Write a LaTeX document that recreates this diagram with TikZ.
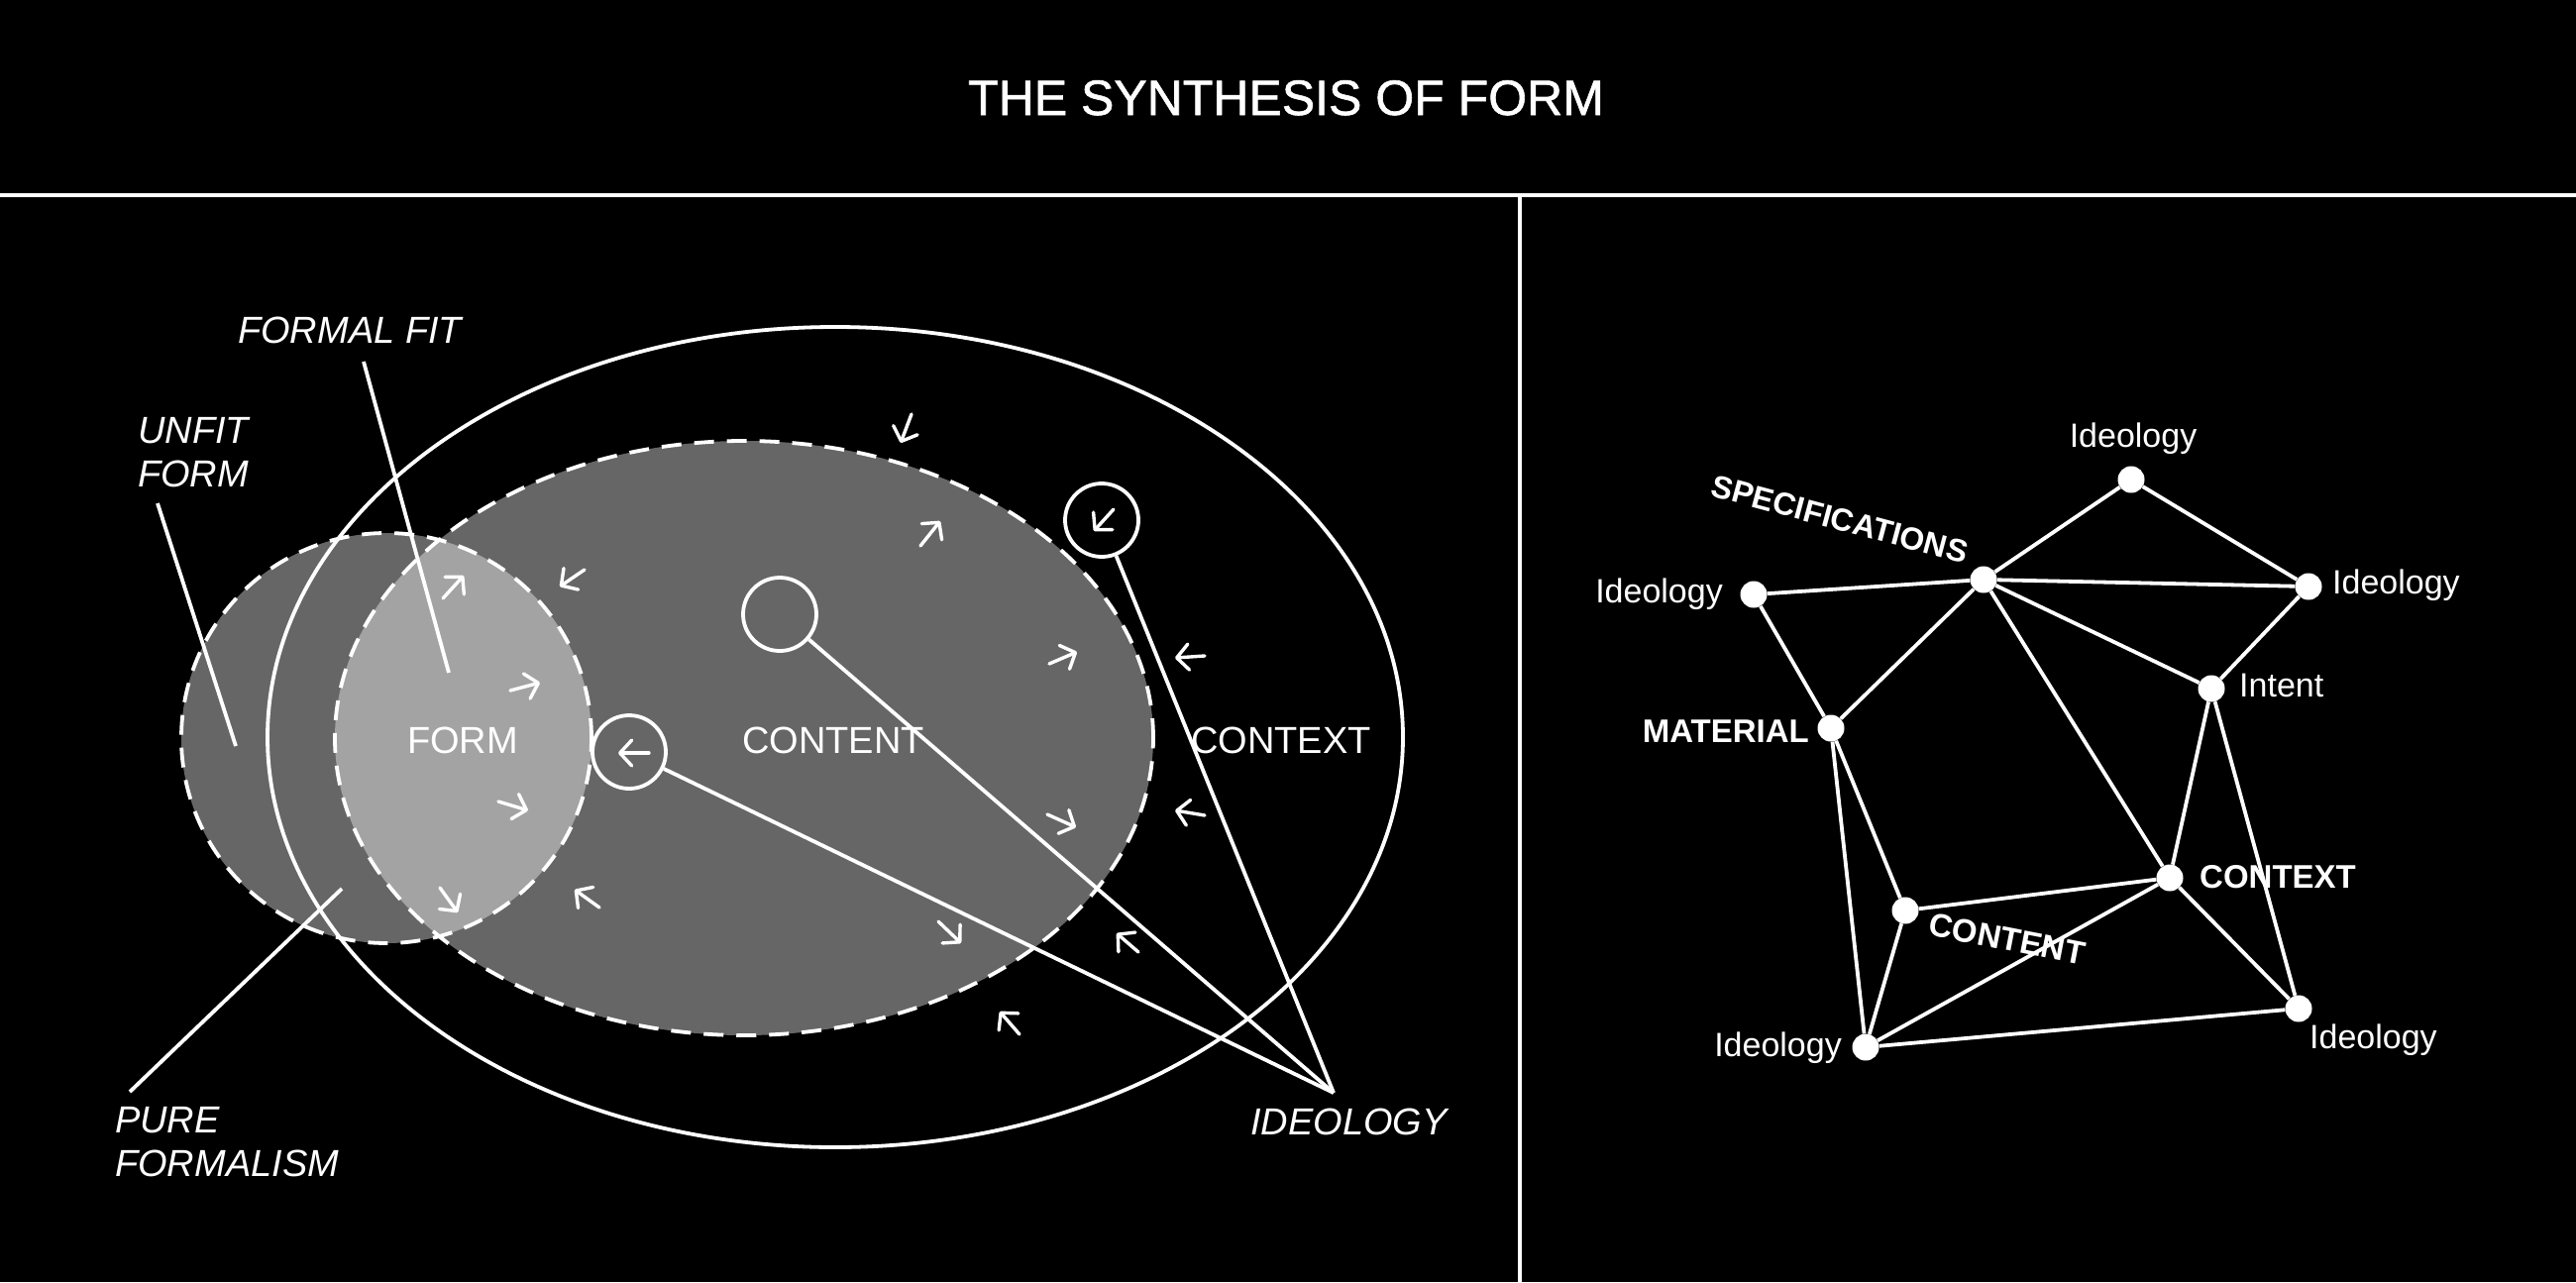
\documentclass[tikz,border=0pt]{standalone}
\usepackage{fontspec}
\setmainfont{Liberation Sans}
\newfontfamily\titlefont{Liberation Sans}[FakeBold=1.2]
\usetikzlibrary{arrows.meta}
\definecolor{midgray}{HTML}{666666}
\definecolor{lightgray}{HTML}{A3A3A3}
\begin{document}
\begin{tikzpicture}[x=1pt,y=-1pt,
  wl/.style={draw=white,line width=3.8pt},
  ring/.style={circle,draw=white,line width=3.8pt,minimum size=74pt,inner sep=0pt},
  dot/.style={circle,fill=white,minimum size=27pt,inner sep=0pt},
  sarr/.style={draw=white,line width=3.4pt,line cap=round,-{Straight Barb[length=12pt,width=26pt,round]}},
  lbl/.style={text=white,inner sep=0pt,font=\fontsize{38}{45}\selectfont},
  ilbl/.style={text=white,inner sep=0pt,align=left,font=\fontsize{38}{44}\selectfont\itshape},
  rlbl/.style={text=white,inner sep=0pt,font=\fontsize{34}{40}\selectfont},
  blbl/.style={text=white,inner sep=0pt,font=\fontsize{33}{40}\selectfont\bfseries},
  dashline/.style={draw=white,line width=3.8pt,dash pattern=on 20pt off 13pt},
]
\useasboundingbox (0,0) rectangle (2600,1294);
\fill[black] (0,0) rectangle (2600,1294);

% title and frame
\node[text=white,inner sep=0pt,anchor=base,font=\fontsize{50}{60}\titlefont] (title) at (1298,116) {THE SYNTHESIS OF FORM};
\coordinate (hl) at (0,197);
\coordinate (hr) at (2600,197);
\coordinate (vt) at (1534,197);
\coordinate (vb) at (1534,1294);
\draw[wl,line width=4.2pt] (hl) -- (hr);
\draw[wl,line width=4.2pt] (vt) -- (vb);

% ---------- left diagram ----------
\fill[midgray] (390,745) circle [radius=207pt];
\fill[midgray] (751,745) ellipse [x radius=413pt, y radius=300pt];
\begin{scope}
  \clip (390,745) circle [radius=207pt];
  \fill[lightgray] (751,745) ellipse [x radius=413pt, y radius=300pt];
\end{scope}
\draw[dashline] (390,745) circle [radius=207pt];
\draw[dashline] (751,745) ellipse [x radius=413pt, y radius=300pt];
\draw[wl] (843,744) ellipse [x radius=573pt, y radius=414pt];

% small rings
\node[ring] (r1) at (635,759) {};
\node[ring] (r2) at (787,620) {};
\node[ring] (r3) at (1112,525) {};
\coordinate (ideo) at (1346,1103);
\draw[wl] (r1) -- (ideo);
\draw[wl] (r2) -- (ideo);
\draw[wl] (r3) -- (ideo);
\draw[sarr] (655,760) -- (624,760);
\draw[sarr] (1124,514) -- (1104,536);

% small arrows
\draw[sarr] (447,604) -- (468,581);
\draw[sarr] (590,575) -- (565,592);
\draw[sarr] (515,697) -- (545,689);
\draw[sarr] (503,809) -- (533,818);
\draw[sarr] (444,896) -- (462,921);
\draw[sarr] (605,916) -- (580,898);
\draw[sarr] (920,418) -- (909,447);
\draw[sarr] (929,551) -- (949,526);
\draw[sarr] (1059,670) -- (1087,658);
\draw[sarr] (1057,822) -- (1086,835);
\draw[sarr] (947,930) -- (970,952);
\draw[sarr] (1149,961) -- (1127,942);
\draw[sarr] (1029,1044) -- (1009,1021);
\draw[sarr] (1216,662) -- (1186,664);
\draw[sarr] (1216,823) -- (1186,818);

% labels
\node[lbl,anchor=base] (form) at (467,760) {FORM};
\node[lbl,anchor=base] (content) at (841,760) {CONTENT};
\node[lbl,anchor=base] (context) at (1293,760) {CONTEXT};
\node[ilbl,anchor=base west] (formalfit) at (240,346) {FORMAL FIT};
\node[ilbl,anchor=north west] (unfit) at (139,421) {UNFIT\\FORM};
\node[ilbl,anchor=north west] (pure) at (116,1117) {PURE\\FORMALISM};
\node[ilbl,anchor=base west] (ideolabel) at (1262,1145) {IDEOLOGY};

\coordinate (ff1) at (367,365);
\coordinate (ff2) at (453,679);
\coordinate (uf1) at (159,508);
\coordinate (uf2) at (238,753);
\coordinate (pf1) at (131,1102);
\coordinate (pf2) at (345,897);
\draw[wl] (ff1) -- (ff2);
\draw[wl] (uf1) -- (uf2);
\draw[wl] (pf1) -- (pf2);

% ---------- right diagram ----------
\node[dot] (iT) at (2151,484) {};
\node[dot] (sp) at (2002,585) {};
\node[dot] (iL) at (1770,600) {};
\node[dot] (iR) at (2330,592) {};
\node[dot] (int) at (2232,695) {};
\node[dot] (ma) at (1848,735) {};
\node[dot] (cx) at (2190,886) {};
\node[dot] (cn) at (1923,919) {};
\node[dot] (iBL) at (1883,1057) {};
\node[dot] (iBR) at (2320,1018) {};

\draw[wl] (iT) -- (sp);
\draw[wl] (iT) -- (iR);
\draw[wl] (sp) -- (iL);
\draw[wl] (sp) -- (iR);
\draw[wl] (sp) -- (ma);
\draw[wl] (sp) -- (int);
\draw[wl] (sp) -- (cx);
\draw[wl] (iL) -- (ma);
\draw[wl] (iR) -- (int);
\draw[wl] (int) -- (cx);
\draw[wl] (int) -- (iBR);
\draw[wl] (ma) -- (cn);
\draw[wl] (ma) -- (iBL);
\draw[wl] (cn) -- (cx);
\draw[wl] (cn) -- (iBL);
\draw[wl] (cx) -- (iBL);
\draw[wl] (cx) -- (iBR);
\draw[wl] (iBL) -- (iBR);

\node[rlbl,anchor=base] (tT) at (2153,451) {Ideology};
\node[rlbl,anchor=base east] (tL) at (1739,608) {Ideology};
\node[rlbl,anchor=base west] (tR) at (2354,599) {Ideology};
\node[rlbl,anchor=base west] (tI) at (2260,703) {Intent};
\node[blbl,anchor=base east] (tM) at (1826,749) {MATERIAL};
\node[blbl,anchor=base west] (tC) at (2220,896) {CONTEXT};
\node[rlbl,anchor=base east] (tBL) at (1859,1066) {Ideology};
\node[rlbl,anchor=base west] (tBR) at (2331,1058) {Ideology};
\node[blbl,font=\fontsize{32}{40}\selectfont\bfseries,rotate=-15] (tS) at (1857,524) {SPECIFICATIONS};
\node[blbl,rotate=-11] (tCn) at (2026,948) {CONTENT};
\end{tikzpicture}
\end{document}
